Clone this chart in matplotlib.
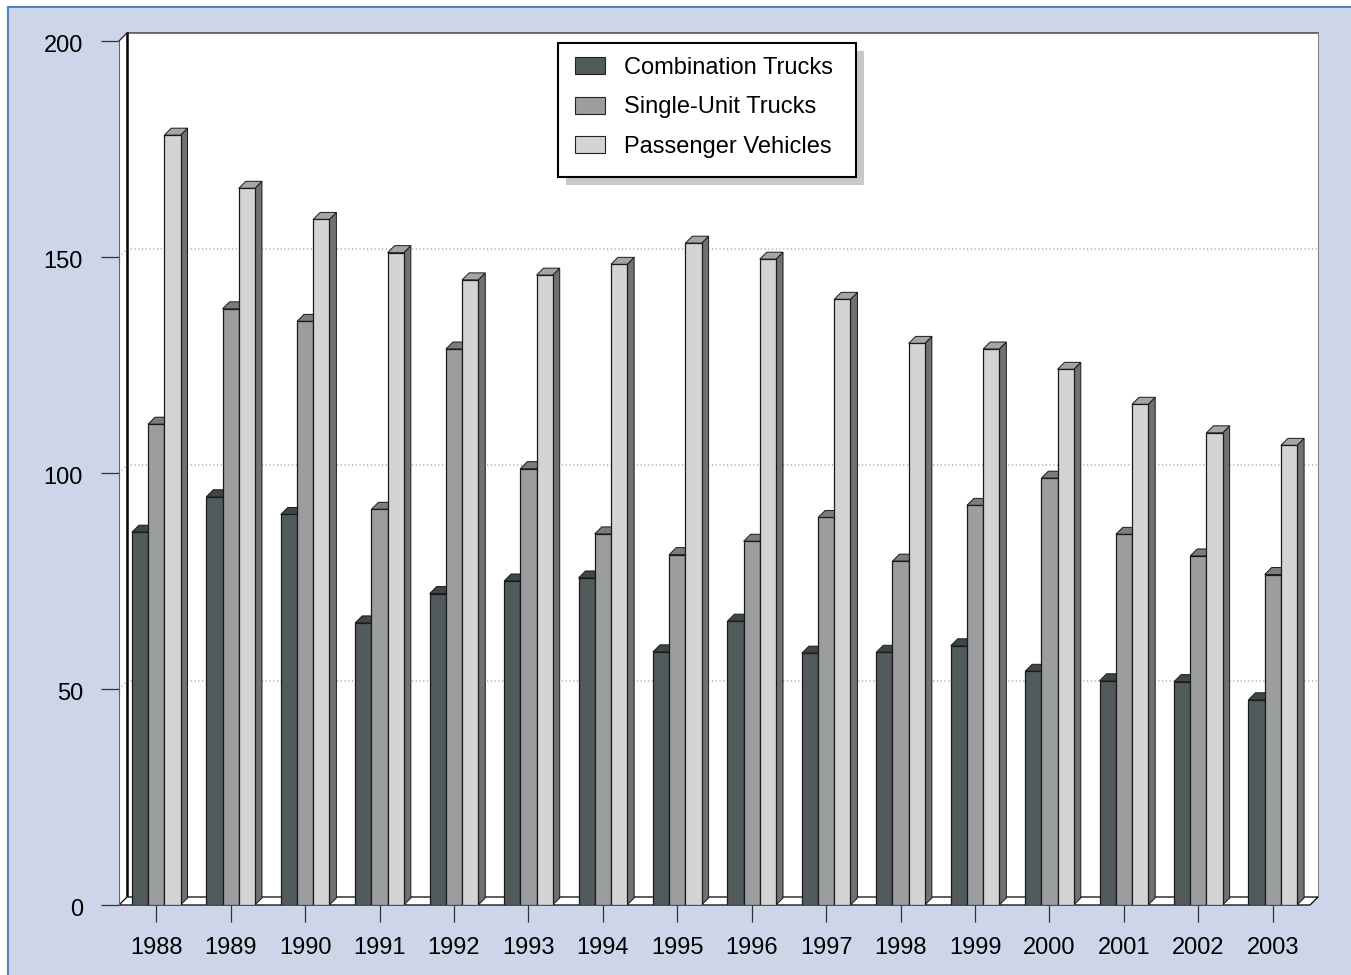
import numpy as np
import matplotlib.pyplot as plt
from matplotlib.patches import Polygon, Rectangle, Patch
from matplotlib.transforms import IdentityTransform, ScaledTranslation

plt.rcParams['font.family'] = ['Liberation Sans', 'DejaVu Sans']

# data
years = [str(y) for y in range(1988, 2004)]
combination = [86.3, 94.5, 90.4, 65.3, 72.1, 75.0, 75.7, 58.6, 65.7, 58.3, 58.5, 60.0, 54.1, 51.9, 51.7, 47.5]
single_unit = [111.3, 138.0, 135.1, 91.6, 128.7, 101.0, 85.9, 81.1, 84.2, 89.7, 79.6, 92.5, 98.8, 85.8, 80.8, 76.5]
passenger = [178.2, 165.9, 158.7, 151.0, 144.7, 145.8, 148.3, 153.2, 149.5, 140.2, 130.0, 128.7, 124.0, 115.9, 109.3, 106.4]
series_names = ['Combination Trucks', 'Single-Unit Trucks', 'Passenger Vehicles']
y_ticks = [0, 50, 100, 150, 200]

# face colours: front / top / side
front_col = ['#525b5c', '#9c9d9f', '#d4d4d4']
top_col = ['#3f4647', '#7b7c7e', '#a5a5a5']
side_col = ['#3a4041', '#6c6d6f', '#6e7275']

W, H = 1351, 975
fig = plt.figure(figsize=(W / 100, H / 100), dpi=100)
fig.patch.set_facecolor('white')
fig.add_artist(Rectangle((7.5 / W, -0.05), 1.2, 1 - 6.5 / H + 0.05, transform=fig.transFigure,
                         facecolor='#cdd5e8', edgecolor='#4f86c0', linewidth=1.5, zorder=-5))

ax = fig.add_axes([119 / W, 1 - 905 / H, 1191 / W, 864 / H])
ax.patch.set_visible(False)
ax.set_xlim(-0.5, 15.5)
ax.set_ylim(0, 200)

# pixel -> data unit helpers for the 3d offsets
px_x = 1191 / 16
px_y = 864 / 200
wdx, wdy = 8 / px_x, 8 / px_y     # wall depth
bdx, bdy = 7 / px_x, 7 / px_y     # bar depth
bw = 16.2 / px_x
x0w, x1w = -0.5, 15.5

# back wall
ax.add_patch(Rectangle((x0w + wdx, wdy), 16, 200, facecolor='white', edgecolor='none',
                       zorder=0.5, clip_on=False))
# left side wall
ax.add_patch(Polygon([(x0w, 0), (x0w + wdx, wdy), (x0w + wdx, 200 + wdy), (x0w, 200)],
                     closed=True, facecolor='white', edgecolor='none', zorder=0.6, clip_on=False))

# gridlines on the walls
for v in y_ticks[1:-1]:
    ax.plot([x0w, x0w + wdx, x1w + wdx], [v, v + wdy, v + wdy], color='#9a9a9a',
            lw=0.9, ls=(0, (1, 2)), zorder=1, clip_on=False)

# wall edges
ax.plot([x0w + wdx, x0w + wdx], [wdy, 200 + wdy], color='black', lw=1.8, zorder=1.2, clip_on=False)
ax.plot([x0w, x0w + wdx, x1w + wdx], [200, 200 + wdy, 200 + wdy], color='#222222', lw=0.9,
        zorder=1.2, clip_on=False)
ax.plot([x1w + wdx, x1w + wdx], [wdy, 200 + wdy], color='#888888', lw=0.8, zorder=1.2, clip_on=False)

# floor
ax.add_patch(Polygon([(x0w, 0), (x1w, 0), (x1w + wdx, wdy), (x0w + wdx, wdy)], closed=True,
                     facecolor='white', edgecolor='black', linewidth=0.9, zorder=1.5, clip_on=False))

# 3d columns
x = np.arange(len(years))
series = [combination, single_unit, passenger]
for k, vals in enumerate(series):
    xs = x + (k - 1) * bw
    ax.bar(xs, vals, width=bw, color=front_col[k], edgecolor='#1a1a1a', linewidth=0.9, zorder=4)
    for xi, v in zip(xs, vals):
        a, b = xi - bw / 2, xi + bw / 2
        ax.add_patch(Polygon([(b, 0), (b + bdx, bdy), (b + bdx, v + bdy), (b, v)], closed=True,
                             facecolor=side_col[k], edgecolor='#1a1a1a', linewidth=0.7, zorder=3))
        ax.add_patch(Polygon([(a, v), (a + bdx, v + bdy), (b + bdx, v + bdy), (b, v)], closed=True,
                             facecolor=top_col[k], edgecolor='#1a1a1a', linewidth=0.7, zorder=3))

# axes, ticks
for s in ['top', 'right', 'bottom']:
    ax.spines[s].set_visible(False)
ax.spines['left'].set_color('#666666')
ax.spines['left'].set_linewidth(0.8)
ax.set_xticks(x, years)
ax.set_yticks(y_ticks)
ax.tick_params(axis='both', direction='out', width=0.9, color='#333333', labelsize=17, labelcolor='black')
ax.tick_params(axis='y', length=13, pad=13)
ax.tick_params(axis='x', length=12, pad=11)
# nudge y labels a little lower
nudge = ScaledTranslation(0, -2.5 / 100, fig.dpi_scale_trans)
for lab in ax.get_yticklabels():
    lab.set_transform(lab.get_transform() + nudge)

# legend: entries from matplotlib, box and flat shadow drawn in pixels
handles = [Patch(facecolor=c, edgecolor='#222222', linewidth=0.8) for c in front_col]
leg = ax.legend(handles, series_names, loc='upper left', bbox_to_anchor=(575 / W, 1 - 57 / H),
                bbox_transform=fig.transFigure, fontsize=17, frameon=False, borderpad=0,
                labelspacing=0.74, handlelength=1.25, handleheight=0.75, handletextpad=0.82,
                borderaxespad=0)
leg.set_zorder(10)

box_l, box_r, box_t, box_b = 558, 856, 43, 177
ax.add_patch(Rectangle((box_l + 8, H - box_b - 8), box_r - box_l, box_b - box_t,
                       transform=IdentityTransform(), facecolor='#c8c8c8', edgecolor='none',
                       zorder=8, clip_on=False))
ax.add_patch(Rectangle((box_l, H - box_b), box_r - box_l, box_b - box_t,
                       transform=IdentityTransform(), facecolor='white', edgecolor='black',
                       linewidth=1.5, zorder=9, clip_on=False))

fig.savefig('out.png', dpi=100)
